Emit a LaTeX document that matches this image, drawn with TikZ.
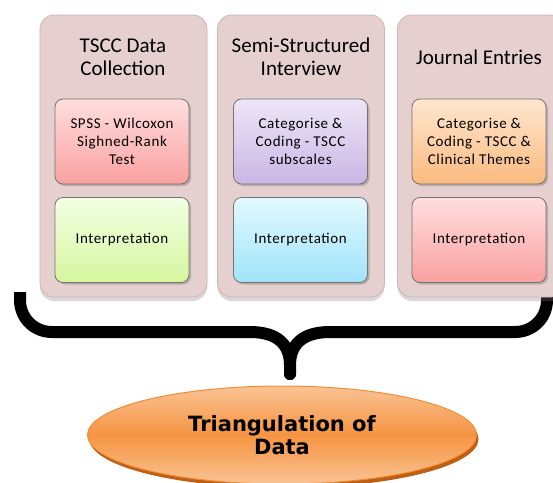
\documentclass[tikz,border=0pt]{standalone}
\usepackage{fontspec}
\setmainfont{Carlito}
\newfontfamily\ovalfont{DejaVu Sans}
\usetikzlibrary{shapes.geometric, shadows}

\definecolor{panelfill}{RGB}{230,207,207}
\definecolor{panelline}{RGB}{205,182,182}
\definecolor{pinktop}{RGB}{255,222,222}
\definecolor{pinkbot}{RGB}{250,160,160}
\definecolor{greentop}{RGB}{242,255,228}
\definecolor{greenbot}{RGB}{214,246,158}
\definecolor{purpletop}{RGB}{238,230,248}
\definecolor{purplebot}{RGB}{200,182,228}
\definecolor{cyantop}{RGB}{226,249,255}
\definecolor{cyanbot}{RGB}{160,228,250}
\definecolor{orangetop}{RGB}{255,230,208}
\definecolor{orangebot}{RGB}{250,186,126}
\definecolor{ovaltop}{RGB}{250,195,148}
\definecolor{ovalmid}{RGB}{245,148,66}
\definecolor{ovalline}{RGB}{240,140,55}
\definecolor{ovalshadow}{RGB}{190,95,20}

\tikzset{
  column/.style={draw=panelline, line width=0.8pt, fill=panelfill, rounded corners=14pt,
    minimum width=167pt, minimum height=282pt,
    drop shadow={shadow xshift=0pt, shadow yshift=-4pt, opacity=0.3}},
  heading/.style={align=center, font=\fontsize{21}{23}\selectfont},
  taskbox/.style={draw=black!55, line width=0.8pt, rounded corners=8pt,
    minimum width=134pt, minimum height=85pt, align=center,
    font=\fontsize{15}{18}\selectfont\addfontfeatures{LetterSpace=4},
    drop shadow={shadow xshift=2pt, shadow yshift=-2pt, opacity=0.45}},
  oval/.style={ellipse, draw=ovalline, line width=1pt, top color=ovaltop,
    bottom color=ovaltop, middle color=ovalmid, minimum width=389pt,
    minimum height=98pt, align=center,
    font=\ovalfont\bfseries\fontsize{21}{23}\selectfont,
    drop shadow={shadow xshift=2pt, shadow yshift=-4pt, fill=ovalshadow, opacity=1}},
  brace/.style={line width=12pt, line join=round},
}

\begin{document}
\begin{tikzpicture}[x=1pt, y=-1pt]
    \useasboundingbox (0,0) rectangle (553,482);
    % curly brace under the three columns
    \coordinate (tip) at (290,374);
    \draw[brace] (20,292) -- (20,300) .. controls (20,318) and (34,332) .. (52,332)
        -- (250,332) .. controls (278,332) and (290,345) .. (290,365) -- (tip)
        -- (290,365) .. controls (290,345) and (302,332) .. (330,332)
        -- (515,332) .. controls (533,332) and (547,318) .. (547,300) -- (547,292);
    \fill (tip) circle (6pt);
    % columns
    \node[column] (tscc) at (123.5,156) {};
    \node[column] (interview) at (301,156) {};
    \node[column] (journal) at (481,156) {};
    \node[heading] (tscctitle) at (123,57) {TSCC Data\\Collection};
    \node[heading] (interviewtitle) at (301,57) {Semi-Structured\\Interview};
    \node[heading] (journaltitle) at (479,57) {Journal Entries};
    % steps in each column
    \node[taskbox, top color=pinktop, bottom color=pinkbot] (spss) at (122,141.5) {SPSS - Wilcoxon\\Sighned-Rank\\Test};
    \node[taskbox, top color=greentop, bottom color=greenbot] (tsccinterp) at (122,240) {Interpretation};
    \node[taskbox, top color=purpletop, bottom color=purplebot] (subscales) at (300.5,141.5) {Categorise \&\\Coding - TSCC\\subscales};
    \node[taskbox, top color=cyantop, bottom color=cyanbot] (interviewinterp) at (300.5,240) {Interpretation};
    \node[taskbox, top color=orangetop, bottom color=orangebot] (themes) at (479,141.5) {Categorise \&\\Coding - TSCC \&\\Clinical Themes};
    \node[taskbox, top color=pinktop, bottom color=pinkbot] (journalinterp) at (479,240) {Interpretation};
    % result
    \node[oval] (triang) at (282,435) {Triangulation of\\Data};
\end{tikzpicture}
\end{document}
